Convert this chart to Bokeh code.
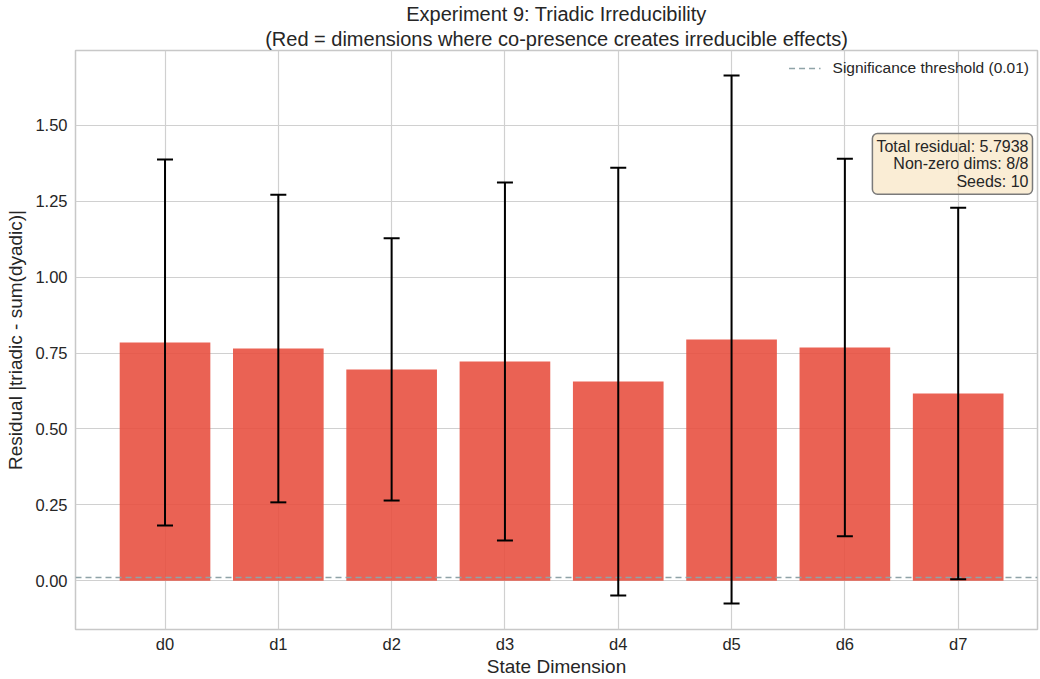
from bokeh.plotting import figure
from bokeh.models import (ColumnDataSource, Whisker, TeeHead, Label, Title,
                          FixedTicker, NumeralTickFormatter, Range1d)
from bokeh.embed import file_html
from bokeh.resources import INLINE

categories = ["d0", "d1", "d2", "d3", "d4", "d5", "d6", "d7"]
residual_mean = [0.785, 0.765, 0.696, 0.722, 0.656, 0.795, 0.768, 0.617]
residual_std = [0.603, 0.507, 0.432, 0.590, 0.705, 0.870, 0.622, 0.612]
threshold = 0.01
y_ticks = [0.0, 0.25, 0.5, 0.75, 1.0, 1.25, 1.5]
info_text = "Total residual: 5.7938\nNon-zero dims: 8/8\nSeeds: 10"
title_main = "Experiment 9: Triadic Irreducibility"
title_sub = "(Red = dimensions where co-presence creates irreducible effects)"

FONT = "Liberation Sans"
TXT = "#262626"
idx = list(range(len(categories)))
src = ColumnDataSource(dict(
    x=idx, top=residual_mean,
    upper=[m + s for m, s in zip(residual_mean, residual_std)],
    lower=[m - s for m, s in zip(residual_mean, residual_std)],
))

p = figure(width=1040, height=679, output_backend="svg", toolbar_location=None,
           x_range=Range1d(-0.79, 7.70), y_range=Range1d(-0.161, 1.747),
           min_border_left=75, min_border_right=3, min_border_top=0,
           min_border_bottom=0)

# Titles: main title on top, subtitle (added later) closest to the plot
p.title.text = title_main
p.title.align = "center"
p.title.text_font = FONT
p.title.text_font_size = "20px"
p.title.text_font_style = "normal"
p.title.text_color = TXT
p.title.standoff = 0
p.add_layout(Title(text=title_sub, align="center", text_font=FONT,
                   text_font_size="20px", text_font_style="normal",
                   text_color=TXT, standoff=2), "above")

p.vbar(x="x", top="top", bottom=0, width=0.8, source=src,
       fill_color="#e74c3c", fill_alpha=0.88, line_color=None)

p.hspan(y=[threshold], line_color="#8fa3a8", line_dash="6 4", line_width=1.5,
        legend_label="Significance threshold (0.01)")

w = Whisker(base="x", upper="upper", lower="lower", source=src,
            line_color="black", line_width=2, level="overlay",
            upper_head=TeeHead(size=16, line_color="black", line_width=2),
            lower_head=TeeHead(size=16, line_color="black", line_width=2))
p.add_layout(w)

# Axes
for ax in (p.xaxis, p.yaxis):
    ax.axis_line_color = None
    ax.major_tick_line_color = None
    ax.minor_tick_line_color = None
    ax.major_tick_out = 0
    ax.major_tick_in = 0
    ax.minor_tick_out = 0
    ax.minor_tick_in = 0
    ax.major_label_text_font = FONT
    ax.major_label_text_font_size = "16.5px"
    ax.major_label_text_color = TXT
    ax.axis_label_text_font = FONT
    ax.axis_label_text_font_size = "19px"
    ax.axis_label_text_font_style = "normal"
    ax.axis_label_text_color = TXT

p.xaxis.ticker = FixedTicker(ticks=idx)
p.xaxis.major_label_overrides = {i: c for i, c in zip(idx, categories)}
p.xaxis.axis_label = "State Dimension"
p.xaxis.major_label_standoff = 5
p.xaxis.axis_label_standoff = 0

p.yaxis.ticker = FixedTicker(ticks=y_ticks)
p.yaxis.formatter = NumeralTickFormatter(format="0.00")
p.yaxis.axis_label = "Residual |triadic - sum(dyadic)|"
p.yaxis.major_label_standoff = 8
p.yaxis.axis_label_standoff = 6

p.xgrid.grid_line_color = "#d0d0d0"
p.ygrid.grid_line_color = "#d0d0d0"
p.xgrid.grid_line_width = 1.2
p.ygrid.grid_line_width = 1.2
p.outline_line_color = "#c8c8c8"
p.outline_line_width = 1.5
p.background_fill_color = "white"
p.border_fill_color = "white"

# Legend
p.legend.location = "top_right"
p.legend.background_fill_alpha = 0
p.legend.border_line_color = None
p.legend.label_text_font = FONT
p.legend.label_text_font_size = "15.5px"
p.legend.label_text_color = TXT
p.legend.glyph_width = 32
p.legend.label_standoff = 12
p.legend.margin = 8
p.legend.padding = 8

# Info box (screen units relative to the plot frame)
lbl = Label(x=957, y=496, x_units="screen", y_units="screen", text=info_text,
            anchor="top_right", text_align="right", text_font=FONT,
            text_font_size="16px", text_color=TXT, text_line_height=1.05,
            background_fill_color="#f5deb3", background_fill_alpha=0.55,
            border_line_color="#7a7a7a", border_line_width=1.5,
            border_radius=5, padding=4)
p.add_layout(lbl)

open("out.html", "w").write(file_html(p, INLINE))
